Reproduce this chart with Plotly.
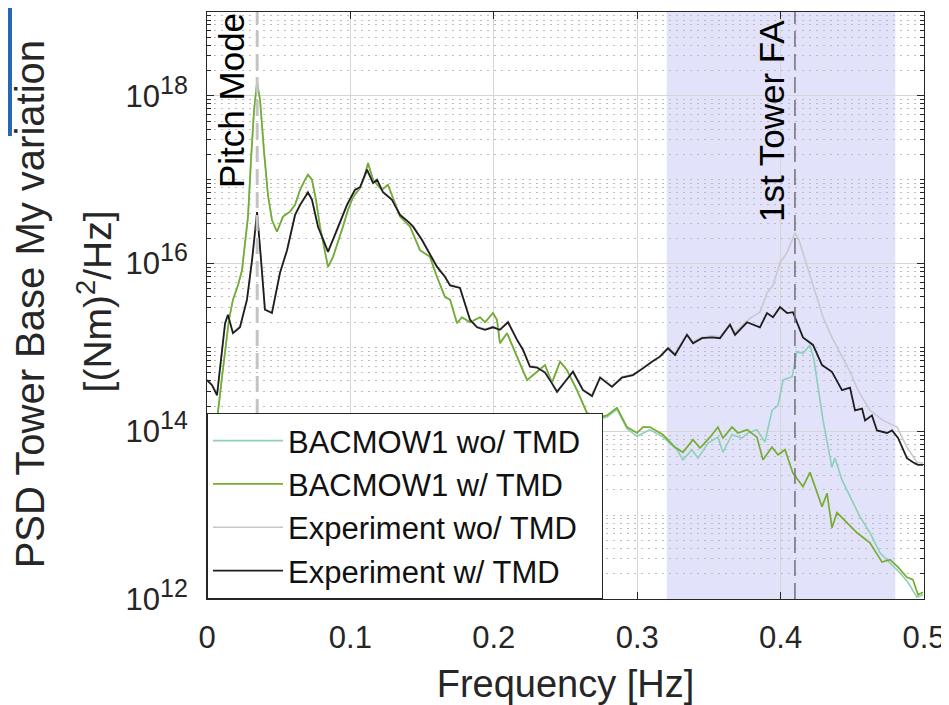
import plotly.graph_objects as go

# ---------------- data (frequency [Hz], log10 PSD) ----------------
exp_w_tmd = [(0.000,14.61),(0.0035,14.55),(0.007,14.43),(0.0105,14.97),(0.0126,15.29),(0.0146,15.39),
    (0.0181,15.17),(0.023,15.24),(0.0279,15.57),(0.0314,16.04),(0.0349,16.615),(0.0377,16.04),(0.0404,15.45),
    (0.0453,15.41),(0.0509,15.89),(0.0558,16.16),(0.0614,16.58),(0.0649,16.70),(0.0704,16.85),(0.0732,16.76),
    (0.0774,16.44),(0.0844,16.14),(0.0907,16.40),(0.0976,16.70),(0.1032,16.88),(0.1067,16.91),(0.1116,17.12),
    (0.1158,16.96),(0.1186,17.00),(0.1227,16.85),(0.129,16.76),(0.1346,16.58),(0.1402,16.50),(0.1437,16.44),
    (0.1499,16.28),(0.1555,16.10),(0.1604,15.96),(0.166,15.84),(0.1695,15.74),(0.1764,15.71),(0.1834,15.33),
    (0.1883,15.24),(0.1939,15.21),(0.1994,15.24),(0.2043,15.21),(0.2099,15.30),(0.2162,15.09),(0.2204,14.97),
    (0.2252,14.77),(0.2301,14.76),(0.2357,14.70),(0.2392,14.61),(0.2441,14.47),(0.2497,14.59),(0.2552,14.71),
    (0.2622,14.49),(0.2685,14.42),(0.2741,14.64),(0.2824,14.53),(0.2894,14.64),(0.2971,14.67),(0.304,14.75),
    (0.3103,14.83),(0.3159,14.89),(0.3215,14.99),(0.3264,14.91),(0.3347,15.15),(0.3389,15.05),(0.3452,15.11),
    (0.3522,15.12),(0.3577,15.11),(0.3647,15.27),(0.3682,15.15),(0.3766,15.30),(0.3856,15.24),(0.3905,15.41),
    (0.3947,15.36),(0.3996,15.48),(0.4045,15.41),(0.4086,15.42),(0.4156,15.12),(0.4226,15.03),(0.4289,14.79),
    (0.4358,14.71),(0.4428,14.49),(0.4484,14.52),(0.4519,14.25),(0.4568,14.27),(0.4589,14.13),(0.4637,14.19),
    (0.4672,14.01),(0.4742,13.98),(0.4777,14.01),(0.4819,13.92),(0.4881,13.68),(0.4923,13.63),(0.4958,13.60),
    (0.4993,13.60)]

exp_wo_tmd = [(0.000,14.62),(0.0035,14.56),(0.007,14.45),(0.0105,14.95),(0.0126,15.27),(0.0146,15.38),
    (0.0181,15.18),(0.023,15.25),(0.0279,15.58),(0.0314,16.03),(0.0349,16.60),(0.0377,16.05),(0.0404,15.46),
    (0.0453,15.42),(0.0509,15.88),(0.0558,16.15),(0.0614,16.57),(0.0649,16.69),(0.0704,16.84),(0.0732,16.77),
    (0.0774,16.45),(0.0844,16.15),(0.0907,16.39),(0.0976,16.69),(0.1032,16.87),(0.1067,16.90),(0.1116,17.10),
    (0.1158,16.97),(0.1186,17.00),(0.1227,16.86),(0.129,16.77),(0.1346,16.59),(0.1402,16.51),(0.1437,16.45),
    (0.1499,16.29),(0.1555,16.11),(0.1604,15.97),(0.166,15.85),(0.1695,15.75),(0.1764,15.72),(0.1834,15.34),
    (0.1883,15.25),(0.1939,15.22),(0.1994,15.25),(0.2043,15.22),(0.2099,15.31),(0.2162,15.10),(0.2204,14.98),
    (0.2252,14.78),(0.2301,14.77),(0.2357,14.71),(0.2392,14.62),(0.2441,14.48),(0.2497,14.60),(0.2552,14.72),
    (0.2622,14.50),(0.2685,14.43),(0.2741,14.65),(0.2824,14.54),(0.2894,14.65),(0.2971,14.68),(0.304,14.76),
    (0.3103,14.84),(0.3159,14.90),(0.3215,15.00),(0.3264,14.93),(0.3347,15.16),(0.3389,15.07),(0.3452,15.12),
    (0.3522,15.14),(0.3577,15.13),(0.3647,15.28),(0.3682,15.18),(0.3787,15.35),(0.3856,15.42),(0.3905,15.65),
    (0.3947,15.74),(0.3996,16.01),(0.4045,16.13),(0.4073,16.25),(0.41,16.365),(0.4128,16.28),(0.4156,16.13),
    (0.4205,15.84),(0.424,15.65),(0.4296,15.36),(0.4358,15.12),(0.4428,14.89),(0.4484,14.71),(0.454,14.49),
    (0.4623,14.25),(0.4714,14.13),(0.4812,14.05),(0.4881,13.81),(0.4951,13.63),(0.4993,13.62)]

bac_w_tmd = [(0.0021,12.94),(0.0049,13.66),(0.007,14.13),(0.0098,14.55),(0.0126,14.97),(0.0153,15.33),
    (0.0181,15.57),(0.0216,15.74),(0.0244,15.92),(0.0265,16.22),(0.0286,16.56),(0.0307,17.24),(0.0328,17.83),
    (0.0349,18.165),(0.037,17.95),(0.0397,17.35),(0.0425,16.82),(0.0453,16.52),(0.0488,16.38),(0.053,16.56),
    (0.0579,16.62),(0.0614,16.70),(0.0649,16.88),(0.0684,17.00),(0.0704,17.06),(0.0732,17.00),(0.076,16.76),
    (0.0788,16.44),(0.0816,16.19),(0.0844,15.96),(0.0879,16.08),(0.0914,16.25),(0.0948,16.44),(0.0983,16.64),
    (0.1018,16.79),(0.1067,16.90),(0.1095,17.02),(0.1123,17.20),(0.1158,17.00),(0.1192,16.93),(0.122,16.88),
    (0.1262,16.94),(0.1297,16.79),(0.1346,16.56),(0.1416,16.44),(0.1485,16.16),(0.1555,16.08),(0.1604,15.84),
    (0.166,15.60),(0.1695,15.57),(0.1743,15.29),(0.1778,15.36),(0.1834,15.30),(0.1904,15.36),(0.1939,15.30),
    (0.1994,15.41),(0.2022,15.33),(0.2043,15.05),(0.2092,15.17),(0.2162,14.89),(0.2232,14.61),(0.2301,14.71),
    (0.2357,14.79),(0.2406,14.58),(0.2462,14.83),(0.251,14.73),(0.258,14.49),(0.265,14.22),(0.272,14.16),
    (0.2789,14.19),(0.2859,14.28),(0.2929,14.05),(0.2999,13.98),(0.304,14.05),(0.3089,14.05),(0.318,13.96),
    (0.3264,13.81),(0.3319,13.75),(0.3389,13.90),(0.3438,13.80),(0.3508,13.93),(0.3563,14.05),(0.3598,13.92),
    (0.3661,14.05),(0.3703,13.98),(0.3766,14.02),(0.3835,13.93),(0.3877,13.66),(0.394,13.81),(0.3982,13.72),
    (0.4031,13.78),(0.4086,13.50),(0.4156,13.34),(0.4205,13.51),(0.4254,13.26),(0.4289,13.10),(0.4324,13.26),
    (0.4358,12.85),(0.4393,13.03),(0.4463,12.91),(0.4533,12.79),(0.4623,12.67),(0.4707,12.44),(0.4763,12.47),
    (0.4819,12.38),(0.4881,12.26),(0.4923,12.23),(0.4958,12.05),(0.4993,12.08)]

bac_wo_tmd = [(0.0021,12.94),(0.0049,13.66),(0.007,14.13),(0.0098,14.55),(0.0126,14.97),(0.0153,15.33),
    (0.0181,15.57),(0.0216,15.74),(0.0244,15.92),(0.0265,16.22),(0.0286,16.56),(0.0307,17.24),(0.0328,17.83),
    (0.0349,18.16),(0.037,17.95),(0.0397,17.35),(0.0425,16.82),(0.0453,16.52),(0.0488,16.38),(0.053,16.56),
    (0.0579,16.62),(0.0614,16.70),(0.0649,16.88),(0.0684,17.00),(0.0704,17.06),(0.0732,17.00),(0.076,16.76),
    (0.0788,16.44),(0.0816,16.19),(0.0844,15.96),(0.0879,16.08),(0.0914,16.25),(0.0948,16.44),(0.0983,16.64),
    (0.1018,16.79),(0.1067,16.90),(0.1095,17.02),(0.1123,17.20),(0.1158,17.00),(0.1192,16.93),(0.122,16.88),
    (0.1262,16.94),(0.1297,16.79),(0.1346,16.56),(0.1416,16.44),(0.1485,16.16),(0.1555,16.08),(0.1604,15.84),
    (0.166,15.60),(0.1695,15.57),(0.1743,15.29),(0.1778,15.36),(0.1834,15.30),(0.1904,15.36),(0.1939,15.30),
    (0.1994,15.41),(0.2022,15.33),(0.2043,15.05),(0.2092,15.17),(0.2162,14.89),(0.2232,14.61),(0.2301,14.71),
    (0.2357,14.79),(0.2406,14.58),(0.2462,14.83),(0.251,14.73),(0.258,14.49),(0.265,14.21),(0.272,14.14),
    (0.2789,14.17),(0.2859,14.26),(0.2929,14.03),(0.2999,13.94),(0.3089,14.02),(0.318,13.93),(0.3278,13.78),
    (0.3319,13.66),(0.3382,13.78),(0.3424,13.68),(0.3494,13.86),(0.3563,13.93),(0.3598,13.75),(0.3661,13.96),
    (0.3731,13.92),(0.3773,13.98),(0.3835,14.02),(0.3891,13.87),(0.394,14.25),(0.3982,14.31),(0.4017,14.61),
    (0.408,14.65),(0.4114,14.95),(0.4156,14.93),(0.4205,15.03),(0.4233,14.85),(0.4254,14.61),(0.4296,14.13),
    (0.4358,13.57),(0.4379,13.68),(0.4428,13.42),(0.4484,13.22),(0.4554,12.98),(0.4623,12.79),(0.4693,12.55),
    (0.4763,12.43),(0.4833,12.31),(0.4888,12.20),(0.4951,12.02),(0.4993,12.05)]

series_names = ["BACMOW1 wo/ TMD", "BACMOW1 w/ TMD", "Experiment wo/ TMD", "Experiment w/ TMD"]
series_data = [bac_wo_tmd, bac_w_tmd, exp_wo_tmd, exp_w_tmd]
series_colors = ["rgb(140,208,184)", "rgb(119,172,48)", "rgb(200,200,208)", "rgb(30,30,30)"]
series_widths = [1.6, 1.7, 1.6, 1.8]

x_tick_vals = [0, 0.1, 0.2, 0.3, 0.4, 0.5]
x_tick_text = ["0", "0.1", "0.2", "0.3", "0.4", "0.5"]
y_tick_exps = [12, 14, 16, 18]

band_range = [0.3206, 0.48]          # shaded 1st tower FA region
pitch_mode_freq = 0.035
tower_fa_freq = 0.41

FONT = "Arial, Liberation Sans, sans-serif"
AX = "#262626"

fig = go.Figure()
for name, data, col, w in zip(series_names, series_data, series_colors, series_widths):
    fig.add_trace(go.Scatter(
        x=[p[0] for p in data], y=[10 ** p[1] for p in data],
        mode="lines", name=name, line=dict(color=col, width=w)))

minor_vals = [k * 10 ** e for e in range(12, 19) for k in range(1, 10)
              if not (k == 1 and e in y_tick_exps)] + [1e19]

# page body has an 8px margin, so the figure is 8px smaller than the window
fig.update_layout(
    template="none",
    width=941, height=697,
    margin=dict(l=199, r=25, t=4, b=106, autoexpand=False),
    paper_bgcolor="white", plot_bgcolor="white",
    font=dict(family=FONT, color=AX),
    showlegend=True,
    legend=dict(x=0, y=0, xanchor="left", yanchor="bottom", orientation="h",
                bgcolor="white", bordercolor=AX, borderwidth=1,
                font=dict(size=31, color="#111111", family=FONT),
                itemwidth=70, tracegroupgap=0, entrywidth=309, entrywidthmode="pixels"),
    xaxis=dict(range=[0, 0.5], tickvals=x_tick_vals, ticktext=x_tick_text, automargin=False,
               showline=True, linecolor=AX, linewidth=1, mirror="allticks",
               ticks="inside", ticklen=7, tickcolor=AX,
               showgrid=True, gridcolor="#d6d6d6", gridwidth=1, zeroline=False,
               tickfont=dict(size=31, color=AX), ticklabelstandoff=11,
               title=dict(text="Frequency [Hz]", font=dict(size=38, color=AX), standoff=19)),
    yaxis=dict(type="log", range=[12, 19], automargin=False,
               tickvals=[10 ** e for e in y_tick_exps],
               ticktext=["10<sup><span style='font-size:25px'>%d</span></sup>" % e for e in y_tick_exps],
               showline=True, linecolor=AX, linewidth=1, mirror="allticks",
               ticks="inside", ticklen=7, tickcolor=AX,
               showgrid=True, gridcolor="#d6d6d6", gridwidth=1, zeroline=False,
               tickfont=dict(size=31, color=AX), ticklabelstandoff=12,
               minor=dict(tickvals=minor_vals, ticks="inside", ticklen=4, tickcolor=AX,
                          showgrid=True, gridcolor="#bdbdbd", griddash="2px,5px", gridwidth=1)),
)

# shaded band
fig.add_shape(type="rect", xref="x", yref="paper", x0=band_range[0], x1=band_range[1],
              y0=0, y1=1, fillcolor="rgb(226,226,251)", line_width=0, layer="below")
# dashed mode lines
fig.add_shape(type="line", xref="x", yref="paper", x0=pitch_mode_freq, x1=pitch_mode_freq,
              y0=0, y1=1, line=dict(color="#c4c4c4", width=3, dash="16px,7px"))
fig.add_shape(type="line", xref="x", yref="paper", x0=tower_fa_freq, x1=tower_fa_freq,
              y0=0, y1=1, line=dict(color="#707070", width=1.5, dash="16px,7px"))
# blue crop artifact at top-left
fig.add_shape(type="rect", xref="paper", yref="paper", x0=-0.2887, x1=-0.2720,
              y0=0.7888, y1=1.0204, fillcolor="#2566B5", line_width=0, layer="above")

fig.add_annotation(text="Pitch Mode", xref="paper", yref="paper", x=(231 - 207) / 717,
                   y=(599 - 101) / 587, textangle=-90, showarrow=False,
                   xanchor="center", yanchor="middle", font=dict(size=35, color="black"))
fig.add_annotation(text="1st Tower FA", xref="paper", yref="paper", x=(771 - 207) / 717,
                   y=(599 - 121) / 587, textangle=-90, showarrow=False,
                   xanchor="center", yanchor="middle", font=dict(size=35, color="black"))
# y-axis title (two lines)
fig.add_annotation(text="PSD Tower Base My variation", xref="paper", yref="paper",
                   x=(30 - 207) / 717, y=0.502, textangle=-90, showarrow=False,
                   xanchor="center", yanchor="middle", font=dict(size=40, color=AX))
fig.add_annotation(text="[(Nm)<sup>2</sup>/Hz]", xref="paper", yref="paper",
                   x=(94 - 207) / 717, y=0.507, textangle=-90, showarrow=False,
                   xanchor="center", yanchor="middle", font=dict(size=39, color=AX))

fig.write_html("out.html")
